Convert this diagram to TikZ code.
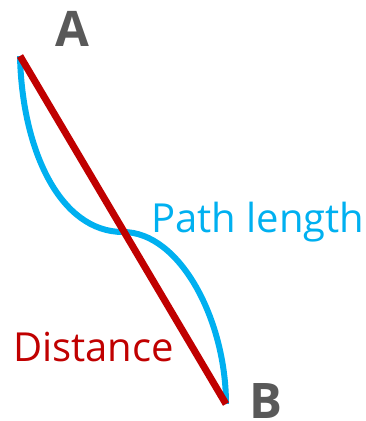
\documentclass[tikz,border=0pt]{standalone}
\usepackage{fontspec}
\setmainfont{Open Sans}
\definecolor{pathblue}{HTML}{00B0F0}
\definecolor{distred}{HTML}{C00000}
\definecolor{lblgray}{HTML}{595959}
\begin{document}
\begin{tikzpicture}[x=1pt,y=-1pt,
  endlbl/.style={text=lblgray,font=\fontsize{49}{49}\selectfont\bfseries,inner sep=0pt,anchor=base},
  caption/.style={font=\fontsize{40}{40}\selectfont,inner sep=0pt,anchor=base west}]
\useasboundingbox (0,0) rectangle (365,421);
\coordinate (A) at (20,56);
\coordinate (M) at (123,232);
\coordinate (B) at (226,404);
\draw[pathblue,line width=6pt] (A) .. controls (22,150) and (60,232) .. (M)
  .. controls (180,232) and (226,320) .. (B);
\draw[distred,line width=7pt] (A) -- (B);
\node[endlbl] (la) at (72,46) {A};
\node[endlbl] (lb) at (266,418) {B};
\node[caption,text=pathblue] (lp) at (151,232) {Path length};
\node[caption,text=distred] (ld) at (13,361) {Distance};
\end{tikzpicture}
\end{document}
